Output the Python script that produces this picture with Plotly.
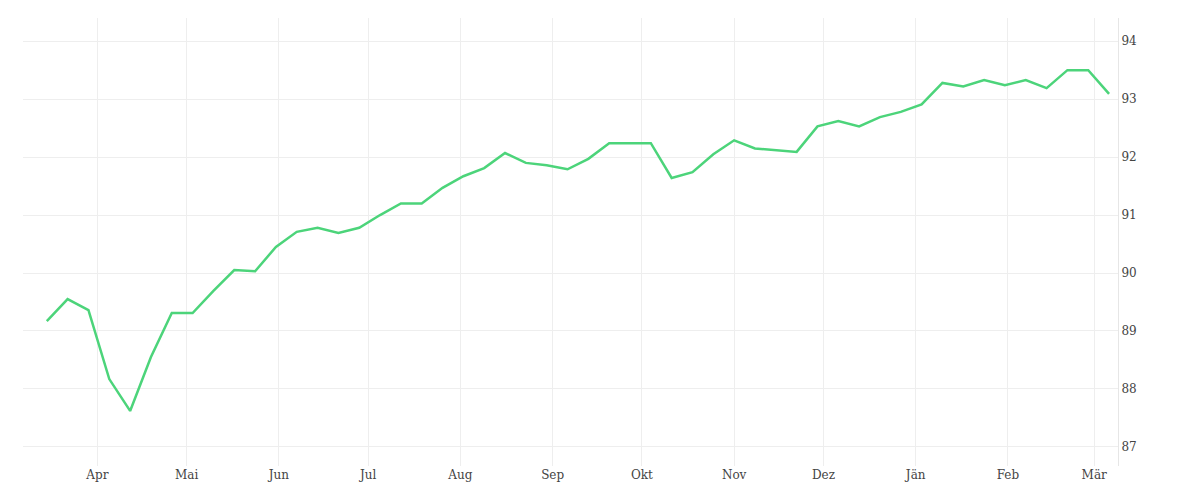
import pandas as pd
import plotly.graph_objects as go

start_date = "2023-03-15"
values = [89.17, 89.55, 89.36, 88.17, 87.62, 88.55, 89.31, 89.31, 89.69, 90.05,
          90.03, 90.45, 90.71, 90.78, 90.69, 90.78, 91.0, 91.2, 91.2, 91.47,
          91.67, 91.81, 92.07, 91.9, 91.86, 91.79, 91.97, 92.24, 92.24, 92.24,
          91.64, 91.74, 92.05, 92.29, 92.15, 92.12, 92.09, 92.53, 92.62, 92.53,
          92.69, 92.78, 92.91, 93.28, 93.22, 93.33, 93.24, 93.33, 93.19, 93.5,
          93.5, 93.09]
dates = pd.date_range(start_date, periods=len(values), freq="7D")
tick_dates = pd.date_range("2023-04-01", periods=12, freq="MS")
tick_labels = ["Apr", "Mai", "Jun", "Jul", "Aug", "Sep", "Okt", "Nov", "Dez", "Jän", "Feb", "Mär"]

fig = go.Figure(go.Scatter(x=dates, y=values, mode="lines",
                           line=dict(color="#4cd47a", width=2.5)))
fig.update_layout(
    width=1200, height=500, plot_bgcolor="white", paper_bgcolor="white",
    margin=dict(l=15, r=90, t=10, b=42), showlegend=False,
    font=dict(family="DejaVu Serif", size=12, color="#444"),
)
fig.update_xaxes(range=["2023-03-07", "2024-03-09"], tickvals=tick_dates, ticktext=tick_labels,
                 showgrid=True, gridcolor="#eeeeee", zeroline=False, ticks="", showline=False)
fig.update_yaxes(range=[86.67, 94.4], side="right", dtick=1, showgrid=True, gridcolor="#eeeeee",
                 zeroline=False, ticks="", showline=True, linecolor="#e6e6e6")
fig.write_html("out.html")
